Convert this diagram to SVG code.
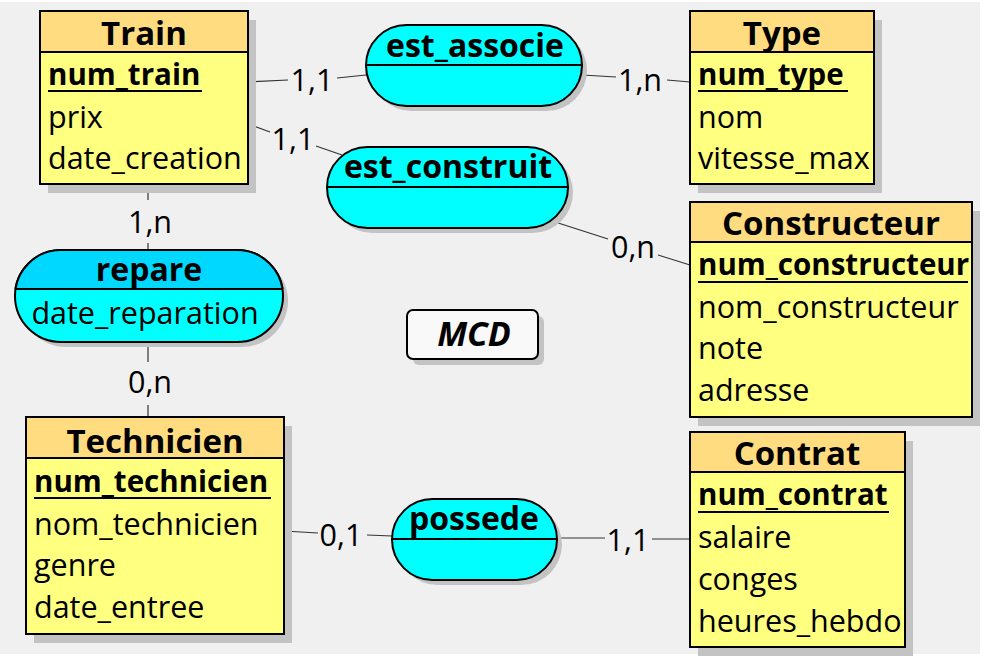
<svg xmlns="http://www.w3.org/2000/svg" width="988" height="658" viewBox="0 0 988 658">
<defs>
<style>
.bg{fill:#ffffff}
.canvas{fill:#f0f0f0}
.shadow{fill:#c3c3c3}
.ehead{fill:#ffdc80;stroke:#000;stroke-width:2}
.ebody{fill:#ffff80;stroke:#000;stroke-width:2}
.assoc{fill:#00ffff;stroke:#000;stroke-width:2}
.div{stroke:#000;stroke-width:2}
.ul{stroke:#000;stroke-width:2}
.etitle{font-family:"Open Sans","DejaVu Sans",sans-serif;font-weight:bold;font-size:33px;text-anchor:middle;fill:#000}
.atitle{font-family:"Open Sans","DejaVu Sans",sans-serif;font-weight:bold;font-size:32px;text-anchor:middle;fill:#000}
.key{font-family:"Open Sans","DejaVu Sans",sans-serif;font-weight:bold;font-size:29.5px;fill:#000}
.attr{font-family:"Open Sans","DejaVu Sans",sans-serif;font-size:30.5px;fill:#000}
.card{font-family:"Open Sans","DejaVu Sans",sans-serif;font-size:30.5px;text-anchor:middle;fill:#000}
.conn line{stroke:#333;stroke-width:1.2}
</style>
<clipPath id="repTop"><rect x="0" y="240" width="300" height="49"/></clipPath>
</defs>
<rect class="bg" x="0" y="0" width="988" height="658"/>
<rect class="canvas" x="0" y="2" width="980" height="652"/>

<g id="connectors" class="conn">
<line x1="248" y1="82" x2="288" y2="80"/><line x1="337" y1="78" x2="366" y2="75"/>
<line x1="582" y1="75" x2="616" y2="77"/><line x1="667" y1="80" x2="690" y2="82"/>
<line x1="248" y1="124" x2="270" y2="132"/><line x1="316" y1="146" x2="342" y2="155"/>
<line x1="552" y1="221" x2="608" y2="239"/><line x1="658" y1="255" x2="690" y2="265"/>
<line x1="148" y1="184" x2="148" y2="200"/><line x1="148" y1="243" x2="148" y2="250"/>
<line x1="148" y1="342" x2="148" y2="362"/><line x1="148" y1="405" x2="148" y2="417"/>
<line x1="284" y1="531" x2="318" y2="533"/><line x1="367" y1="535" x2="392" y2="536"/>
<line x1="557" y1="538" x2="605" y2="538"/><line x1="652" y1="539" x2="690" y2="539"/>
<text class="card" x="312" y="91">1,1</text>
<text class="card" x="640" y="91">1,n</text>
<text class="card" x="293" y="150">1,1</text>
<text class="card" x="633" y="258">0,n</text>
<text class="card" x="150" y="233">1,n</text>
<text class="card" x="150" y="393">0,n</text>
<text class="card" x="341" y="546">0,1</text>
<text class="card" x="628" y="551">1,1</text>
</g>

<g id="Train">
<rect class="shadow" x="48" y="20" width="208" height="173"/>
<rect class="ebody" x="40" y="11" width="208" height="173"/>
<rect class="ehead" x="40" y="11" width="208" height="41"/>
<text class="etitle" x="144" y="45">Train</text>
<text class="key" x="48" y="85">num_train</text>
<line class="ul" x1="48" y1="91" x2="202" y2="91"/>
<text class="attr" x="48" y="128">prix</text>
<text class="attr" x="48" y="169">date_creation</text>
</g>

<g id="Type">
<rect class="shadow" x="698" y="20" width="184" height="173"/>
<rect class="ebody" x="690" y="11" width="184" height="173"/>
<rect class="ehead" x="690" y="11" width="184" height="41"/>
<text class="etitle" x="782" y="45">Type</text>
<text class="key" x="698" y="85">num_type</text>
<line class="ul" x1="698" y1="91" x2="848" y2="91"/>
<text class="attr" x="698" y="128">nom</text>
<text class="attr" x="698" y="169">vitesse_max</text>
</g>

<g id="Constructeur">
<rect class="shadow" x="698" y="211" width="282" height="215"/>
<rect class="ebody" x="690" y="202" width="282" height="215"/>
<rect class="ehead" x="690" y="202" width="282" height="40"/>
<text class="etitle" x="831" y="235">Constructeur</text>
<text class="key" x="698" y="275">num_constructeur</text>
<line class="ul" x1="698" y1="282" x2="968" y2="282"/>
<text class="attr" x="698" y="318">nom_constructeur</text>
<text class="attr" x="698" y="359">note</text>
<text class="attr" x="698" y="401">adresse</text>
</g>

<g id="Technicien">
<rect class="shadow" x="34" y="426" width="258" height="217"/>
<rect class="ebody" x="26" y="417" width="258" height="217"/>
<rect class="ehead" x="26" y="417" width="258" height="41"/>
<text class="etitle" x="155" y="453">Technicien</text>
<text class="key" x="34" y="492">num_technicien</text>
<line class="ul" x1="34" y1="498" x2="271" y2="498"/>
<text class="attr" x="34" y="535">nom_technicien</text>
<text class="attr" x="34" y="576">genre</text>
<text class="attr" x="34" y="618">date_entree</text>
</g>

<g id="Contrat">
<rect class="shadow" x="698" y="441" width="215" height="215"/>
<rect class="ebody" x="690" y="432" width="215" height="215"/>
<rect class="ehead" x="690" y="432" width="215" height="40"/>
<text class="etitle" x="797" y="465">Contrat</text>
<text class="key" x="698" y="505">num_contrat</text>
<line class="ul" x1="698" y1="512" x2="889" y2="512"/>
<text class="attr" x="698" y="548">salaire</text>
<text class="attr" x="698" y="590">conges</text>
<text class="attr" x="698" y="632">heures_hebdo</text>
</g>

<g id="est_associe">
<rect class="shadow" x="371" y="30" width="216" height="81" rx="40.5"/>
<rect class="assoc" x="366" y="25" width="216" height="81" rx="40.5"/>
<line class="div" x1="366" y1="65" x2="582" y2="65"/>
<text class="atitle" x="475" y="57">est_associe</text>
</g>

<g id="est_construit">
<rect class="shadow" x="332" y="152" width="241" height="81" rx="40.5"/>
<rect class="assoc" x="327" y="147" width="241" height="81" rx="40.5"/>
<line class="div" x1="327" y1="187" x2="568" y2="187"/>
<text class="atitle" x="448" y="178">est_construit</text>
</g>

<g id="repare">
<rect class="shadow" x="20" y="255" width="268" height="92" rx="46"/>
<rect class="assoc" x="15" y="250" width="268" height="92" rx="46"/>
<rect x="15" y="250" width="268" height="92" rx="46" fill="#00d8ff" stroke="#000" stroke-width="2" clip-path="url(#repTop)"/>
<line class="div" x1="15" y1="289" x2="283" y2="289"/>
<text class="atitle" x="149" y="281">repare</text>
<text class="attr" x="145" y="324" text-anchor="middle">date_reparation</text>
</g>

<g id="possede">
<rect class="shadow" x="397" y="504" width="165" height="81" rx="40.5"/>
<rect class="assoc" x="392" y="499" width="165" height="81" rx="40.5"/>
<line class="div" x1="392" y1="539" x2="557" y2="539"/>
<text class="atitle" x="474" y="530">possede</text>
</g>

<g id="MCD">
<rect class="shadow" x="413" y="316" width="131" height="49" rx="6"/>
<rect x="407" y="310" width="131" height="49" rx="6" fill="#f9f9f9" stroke="#000" stroke-width="2"/>
<text x="474" y="346" font-family="'Open Sans','DejaVu Sans',sans-serif" font-weight="bold" font-style="italic" font-size="34" text-anchor="middle" fill="#000">MCD</text>
</g>
</svg>
